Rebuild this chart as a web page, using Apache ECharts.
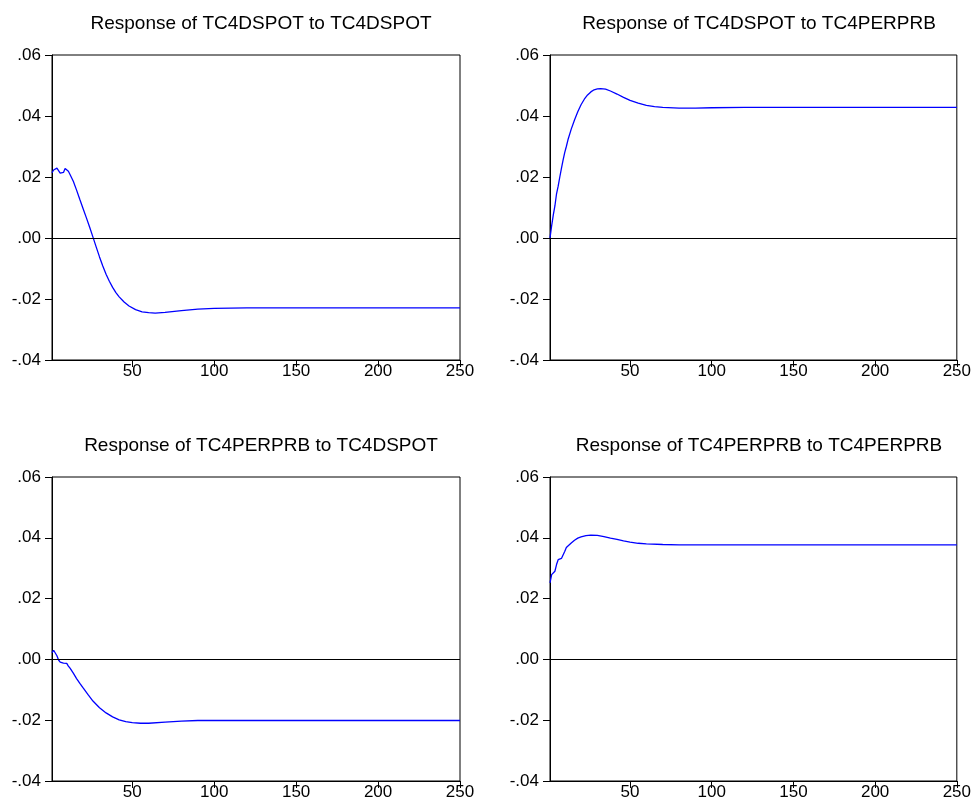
<!DOCTYPE html>
<html>
<head>
<meta charset="utf-8">
<script src="https://cdn.jsdelivr.net/npm/echarts@6/dist/echarts.min.js"></script>
<style>html,body{margin:0;padding:0;background:#fff}#c{width:974px;height:810px}</style>
</head>
<body>
<div id="c"></div>
<script>
// Panel titles
const titles = [
  "Response of TC4DSPOT to TC4DSPOT",
  "Response of TC4DSPOT to TC4PERPRB",
  "Response of TC4PERPRB to TC4DSPOT",
  "Response of TC4PERPRB to TC4PERPRB"
];
// x tick labels (periods)
const xTicks = [50, 100, 150, 200, 250];
// y tick values
const yTicks = [-0.04, -0.02, 0.00, 0.02, 0.04, 0.06];

// Panel 1: TC4DSPOT -> TC4DSPOT
const p1Periods = [1,2,3,4,5,6,7,8,9,10,11,12,14,16,18,20,22,24,26,28,30,32,34,36,38,40,42,45,48,52,56,60,64,70,80,90,100,120,150,200,250];
const p1Values  = [0.0214,0.0223,0.0229,0.0229,0.0224,0.0213,0.0209,0.0215,0.0228,0.0227,0.0219,0.0208,0.0186,0.0157,0.0126,0.0096,0.0066,0.0035,0.0003,-0.0030,-0.0062,-0.0092,-0.0119,-0.0142,-0.0162,-0.0179,-0.0193,-0.0210,-0.0223,-0.0235,-0.0242,-0.0245,-0.0246,-0.0244,-0.0238,-0.0233,-0.0231,-0.0229,-0.0229,-0.0229,-0.0229];

// Panel 2: TC4DSPOT -> TC4PERPRB
const p2Periods = [1,2,3,4,5,6,7,8,9,10,11,12,14,16,18,20,22,24,26,28,30,32,35,38,42,46,50,55,60,65,70,80,90,100,120,150,200,250];
const p2Values  = [0.0000,0.0040,0.0075,0.0105,0.0145,0.0170,0.0200,0.0228,0.0255,0.0280,0.0300,0.0322,0.0357,0.0387,0.0414,0.0437,0.0455,0.0469,0.0479,0.0486,0.0489,0.0490,0.0488,0.0482,0.0472,0.0461,0.0451,0.0442,0.0435,0.0431,0.0428,0.0426,0.0426,0.0427,0.0428,0.0428,0.0428,0.0428];

// Panel 3: TC4PERPRB -> TC4DSPOT
const p3Periods = [1,2,3,4,5,6,7,8,9,10,11,12,14,16,18,20,23,26,30,34,38,42,46,50,55,60,70,80,90,100,150,200,250];
const p3Values  = [0.0022,0.0030,0.0024,0.0012,-0.0002,-0.0009,-0.0010,-0.0012,-0.0006,-0.0013,-0.0022,-0.0029,-0.0045,-0.0063,-0.0079,-0.0094,-0.0116,-0.0137,-0.0159,-0.0176,-0.0189,-0.0199,-0.0205,-0.0208,-0.0210,-0.0210,-0.0206,-0.0203,-0.0201,-0.0201,-0.0201,-0.0201,-0.0201];

// Panel 4: TC4PERPRB -> TC4PERPRB
const p4Periods = [1,2,3,4,5,6,7,8,9,10,11,12,14,16,18,20,23,26,30,34,38,42,46,50,55,60,70,80,100,150,200,250];
const p4Values  = [0.0252,0.0279,0.0275,0.0290,0.0312,0.0328,0.0334,0.0332,0.0328,0.0355,0.0368,0.0372,0.0383,0.0392,0.0399,0.0403,0.0407,0.0409,0.0408,0.0404,0.0399,0.0395,0.0390,0.0386,0.0382,0.0380,0.0378,0.0377,0.0377,0.0377,0.0377,0.0377];

const panels = [
  {periods: p1Periods, values: p1Values},
  {periods: p2Periods, values: p2Values},
  {periods: p3Periods, values: p3Values},
  {periods: p4Periods, values: p4Values}
];

const FONT = "'Liberation Sans', Arial, sans-serif";
const layout = [
  {left: 52, top: 55, width: 408, height: 305, titleTop: 9},
  {left: 550, top: 55, width: 408, height: 305, titleTop: 9},
  {left: 52, top: 477, width: 408, height: 304, titleTop: 431},
  {left: 550, top: 477, width: 408, height: 304, titleTop: 431}
];

const fmtY = v => {
  const s = Number(v).toFixed(2);
  return s.replace('0.', '.');
};

const option = {
  animation: false,
  backgroundColor: '#ffffff',
  title: layout.map((L, i) => ({
    text: titles[i],
    left: L.left + L.width / 2,
    top: L.titleTop,
    textAlign: 'center',
    textStyle: {fontFamily: FONT, fontSize: 19, fontWeight: 'normal', color: '#000'}
  })),
  grid: layout.map(L => ({
    left: L.left, top: L.top, width: L.width, height: L.height,
    show: true, borderColor: '#000', borderWidth: 1, backgroundColor: 'transparent',
    containLabel: false
  })),
  xAxis: layout.map((L, i) => ({
    type: 'value', gridIndex: i, min: 1, max: 250,
    axisLine: {show: true, onZero: false, lineStyle: {color: '#000', width: 1}},
    axisTick: {show: true, inside: false, length: 7, customValues: xTicks, lineStyle: {color: '#000'}},
    axisLabel: {show: true, customValues: xTicks, margin: 3, fontFamily: FONT, fontSize: 17, color: '#000'},
    splitLine: {show: false}
  })),
  yAxis: layout.map((L, i) => ({
    type: 'value', gridIndex: i, min: -0.04, max: 0.06, interval: 0.02,
    axisLine: {show: true, onZero: false, lineStyle: {color: '#000', width: 1}},
    axisTick: {show: true, inside: false, length: 7, lineStyle: {color: '#000'}},
    axisLabel: {show: true, margin: 11, fontFamily: FONT, fontSize: 17, color: '#000', formatter: fmtY},
    splitLine: {show: false}
  })),
  series: panels.map((P, i) => ({
    type: 'line', xAxisIndex: i, yAxisIndex: i,
    data: P.periods.map((t, k) => [t, P.values[k]]),
    showSymbol: false, symbol: 'none', smooth: false,
    lineStyle: {color: '#0000ff', width: 1.3},
    markLine: {
      silent: true, symbol: ['none', 'none'], label: {show: false},
      lineStyle: {color: '#000', width: 1, type: 'solid'},
      data: [{yAxis: 0}]
    }
  }))
};

const chart = echarts.init(document.getElementById('c'), null, {renderer: 'canvas'});
chart.setOption(option);
</script>
</body>
</html>
